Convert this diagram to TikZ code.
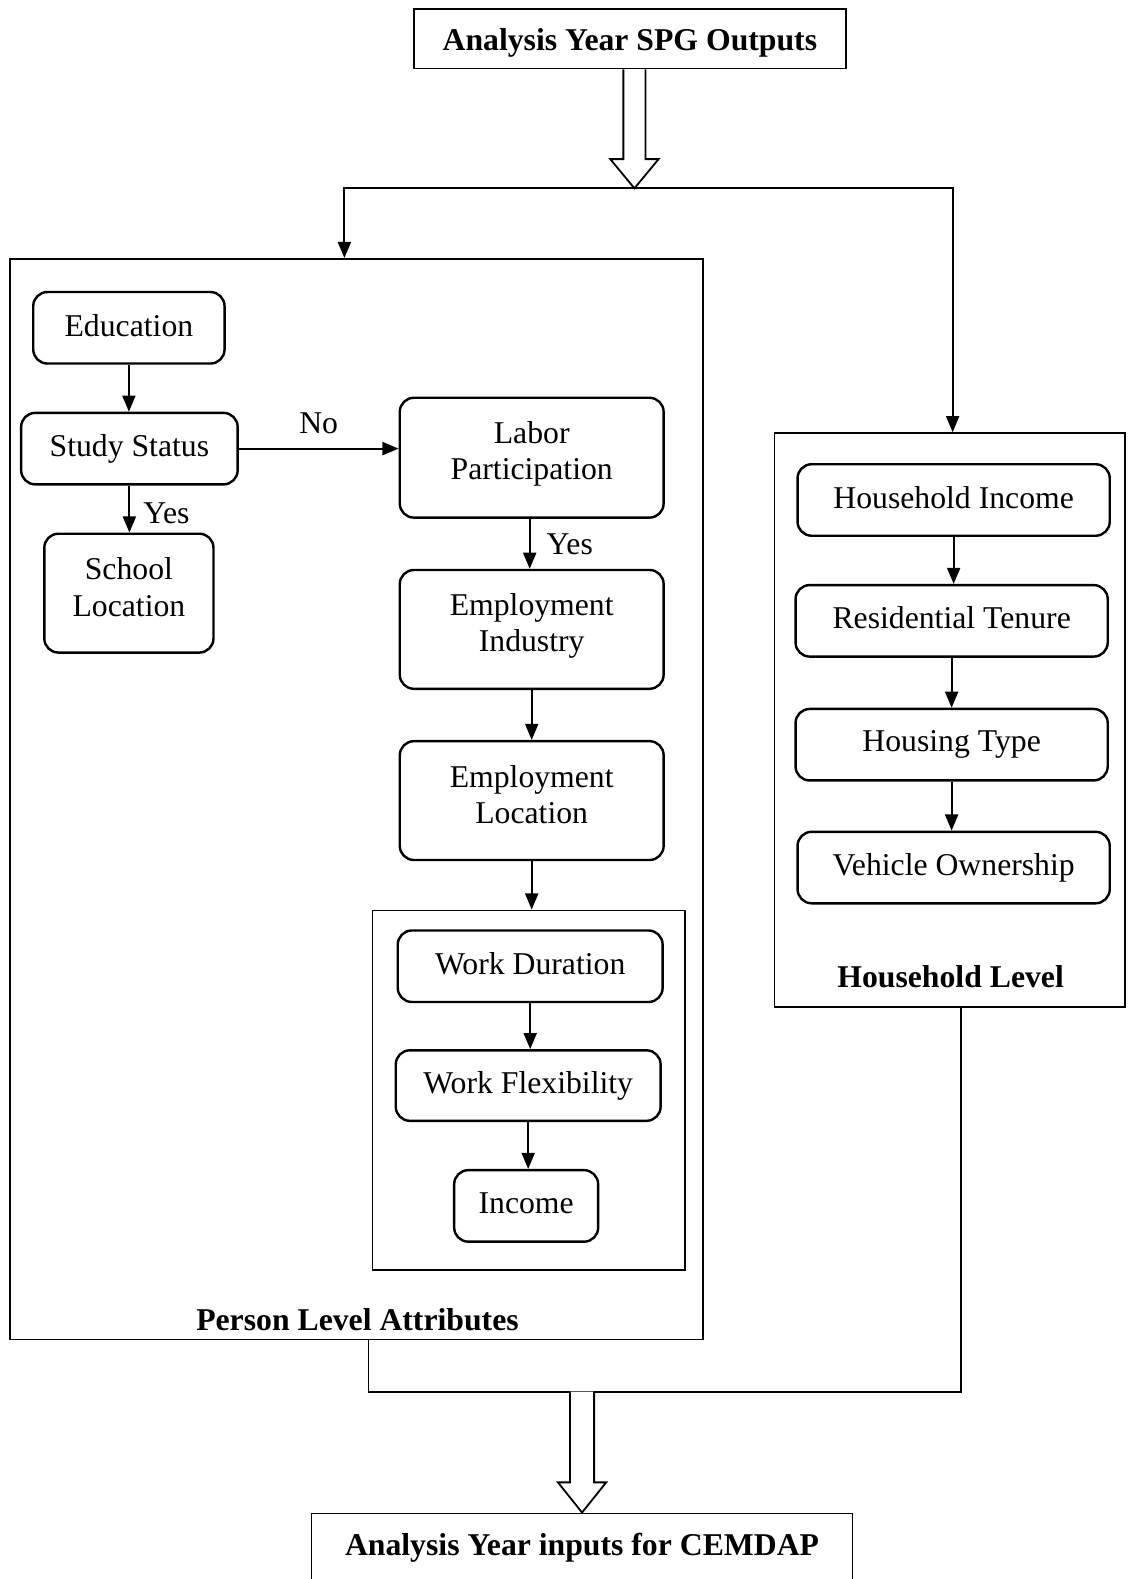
\documentclass[tikz,border=0pt]{standalone}
\usepackage{fontspec}
\setmainfont{Liberation Serif}
\usetikzlibrary{arrows.meta,calc}
\newcommand{\dpt}[1]{\rule[-#1]{0pt}{#1}}
\newcommand{\htt}[1]{\rule{0pt}{#1}}
\begin{document}
\begin{tikzpicture}[x=1pt,y=-1pt,
  txt/.style={font=\fontsize{31.5}{36}\selectfont, align=center},
  btxt/.style={font=\fontsize{31.5}{36}\selectfont\bfseries, align=center},
  rbox/.style={draw, line width=2.4pt, rounded corners=14pt, txt, inner sep=0pt},
  sbox/.style={draw, line width=1.6pt, inner sep=0pt},
  arr/.style={line width=1.8pt, -{Triangle[width=13pt,length=16pt]}},
  ln/.style={line width=1.8pt},
  hollow/.style={line width=1.8pt, fill=white, line join=miter},
  lbl/.style={txt, inner sep=0pt}
]
\useasboundingbox (0,0) rectangle (1120,1568);
\fill[white] (0,0) rectangle (1120,1568);

% top and bottom boxes
\node[sbox, btxt, minimum width=429pt, minimum height=59pt] (top) at (625.5,38.5) {\htt{30pt}Analysis Year SPG Outputs};
\node[sbox, btxt, minimum width=537pt, minimum height=76pt, anchor=north] (bot) at (578,1502) {Analysis Year inputs for CEMDAP\dpt{15pt}};

% group boxes
\node[sbox, minimum width=688pt, minimum height=1073pt] (pers) at (354,793.5) {};
\node[btxt, inner sep=0pt] (perslbl) at (355,1310) {Person Level Attributes};
\node[sbox, minimum width=348pt, minimum height=570pt] (hh) at (943,715) {};
\node[btxt, inner sep=0pt] (hhlbl) at (944,970) {Household Level};
\node[sbox, minimum width=310pt, minimum height=357pt] (inner) at (525,1082.5) {};

% person nodes
\node[rbox, minimum width=190pt, minimum height=71pt] (edu) at (128,325.5) {Education\dpt{4pt}};
\node[rbox, minimum width=215pt, minimum height=71pt] (study) at (128.5,445.5) {Study Status};
\node[rbox, minimum width=168pt, minimum height=118pt] (school) at (128,589) {School\\Location\dpt{12pt}};
\node[rbox, minimum width=262pt, minimum height=119pt] (labor) at (528,454.5) {Labor\\Participation\dpt{14pt}};
\node[rbox, minimum width=262pt, minimum height=118pt] (emind) at (528,625) {Employment\\Industry\dpt{13pt}};
\node[rbox, minimum width=262pt, minimum height=118pt] (emloc) at (528,795) {Employment\\Location\dpt{12pt}};
\node[rbox, minimum width=263pt, minimum height=71pt] (wdur) at (526.5,959.5) {Work Duration\dpt{6pt}};
\node[rbox, minimum width=263pt, minimum height=70pt] (wflex) at (524.5,1078) {Work Flexibility};
\node[rbox, minimum width=143pt, minimum height=71pt] (income) at (522.5,1197.5) {Income\dpt{6pt}};

% household nodes
\node[rbox, minimum width=310pt, minimum height=71pt] (hhinc) at (947,496.5) {Household Income\dpt{4pt}};
\node[rbox, minimum width=310pt, minimum height=71pt] (restn) at (945,616.5) {Residential Tenure\dpt{6pt}};
\node[rbox, minimum width=310pt, minimum height=71pt] (htype) at (945,739.5) {Housing Type};
\node[rbox, minimum width=310pt, minimum height=71pt] (vown) at (947,861.5) {Vehicle Ownership};

% top split
\coordinate (split) at (630,187);
\coordinate (lx) at (342,187);
\coordinate (rx) at (946,187);
\draw[hollow] ($(top.south -| split)+(-11,0)$) -- ($(split)+(-11,-29)$) -- ($(split)+(-24,-29)$) -- (split) -- ($(split)+(24,-29)$) -- ($(split)+(11,-29)$) -- ($(top.south -| split)+(11,0)$);
\draw[arr] (split) -- (lx) -- (lx |- pers.north);
\draw[arr] (split) -- (rx) -- (rx |- hh.north);

% person flow
\draw[arr] (edu.south) -- (edu.south |- study.north);
\draw[arr] (study.south) -- (study.south |- school.north) node[lbl, midway, anchor=west, xshift=13pt, yshift=-4.5pt] {Yes};
\draw[arr] (study.east) -- (study.east -| labor.west) node[lbl, midway, anchor=south, yshift=14pt] {No};
\draw[arr] ($(labor.south)+(-2,0)$) -- ($(labor.south |- emind.north)+(-2,0)$) node[lbl, midway, anchor=west, xshift=16pt] {Yes};
\draw[arr] (emind.south) -- (emind.south |- emloc.north);
\draw[arr] (emloc.south) -- (emloc.south |- inner.north);
\draw[arr] (wdur.south) -- (wdur.south |- wflex.north);
\draw[arr] (wflex.south) -- (wflex.south |- income.north);

% household flow
\draw[arr] (hhinc.south) -- (hhinc.south |- restn.north);
\draw[arr] (restn.south) -- (restn.south |- htype.north);
\draw[arr] (htype.south) -- (htype.south |- vown.north);

% merge
\coordinate (pl) at (366,1382);
\coordinate (hl) at (954,1382);
\coordinate (merge) at (578,1382);
\draw[ln] (pl |- pers.south) -- (pl) -- (hl) -- (hl |- hh.south);
\draw[hollow] ($(merge)+(-12,0)$) -- ($(bot.north)+(-12,-30)$) -- ($(bot.north)+(-24,-30)$) -- (bot.north) -- ($(bot.north)+(24,-30)$) -- ($(bot.north)+(12,-30)$) -- ($(merge)+(12,0)$);
\end{tikzpicture}
\end{document}
